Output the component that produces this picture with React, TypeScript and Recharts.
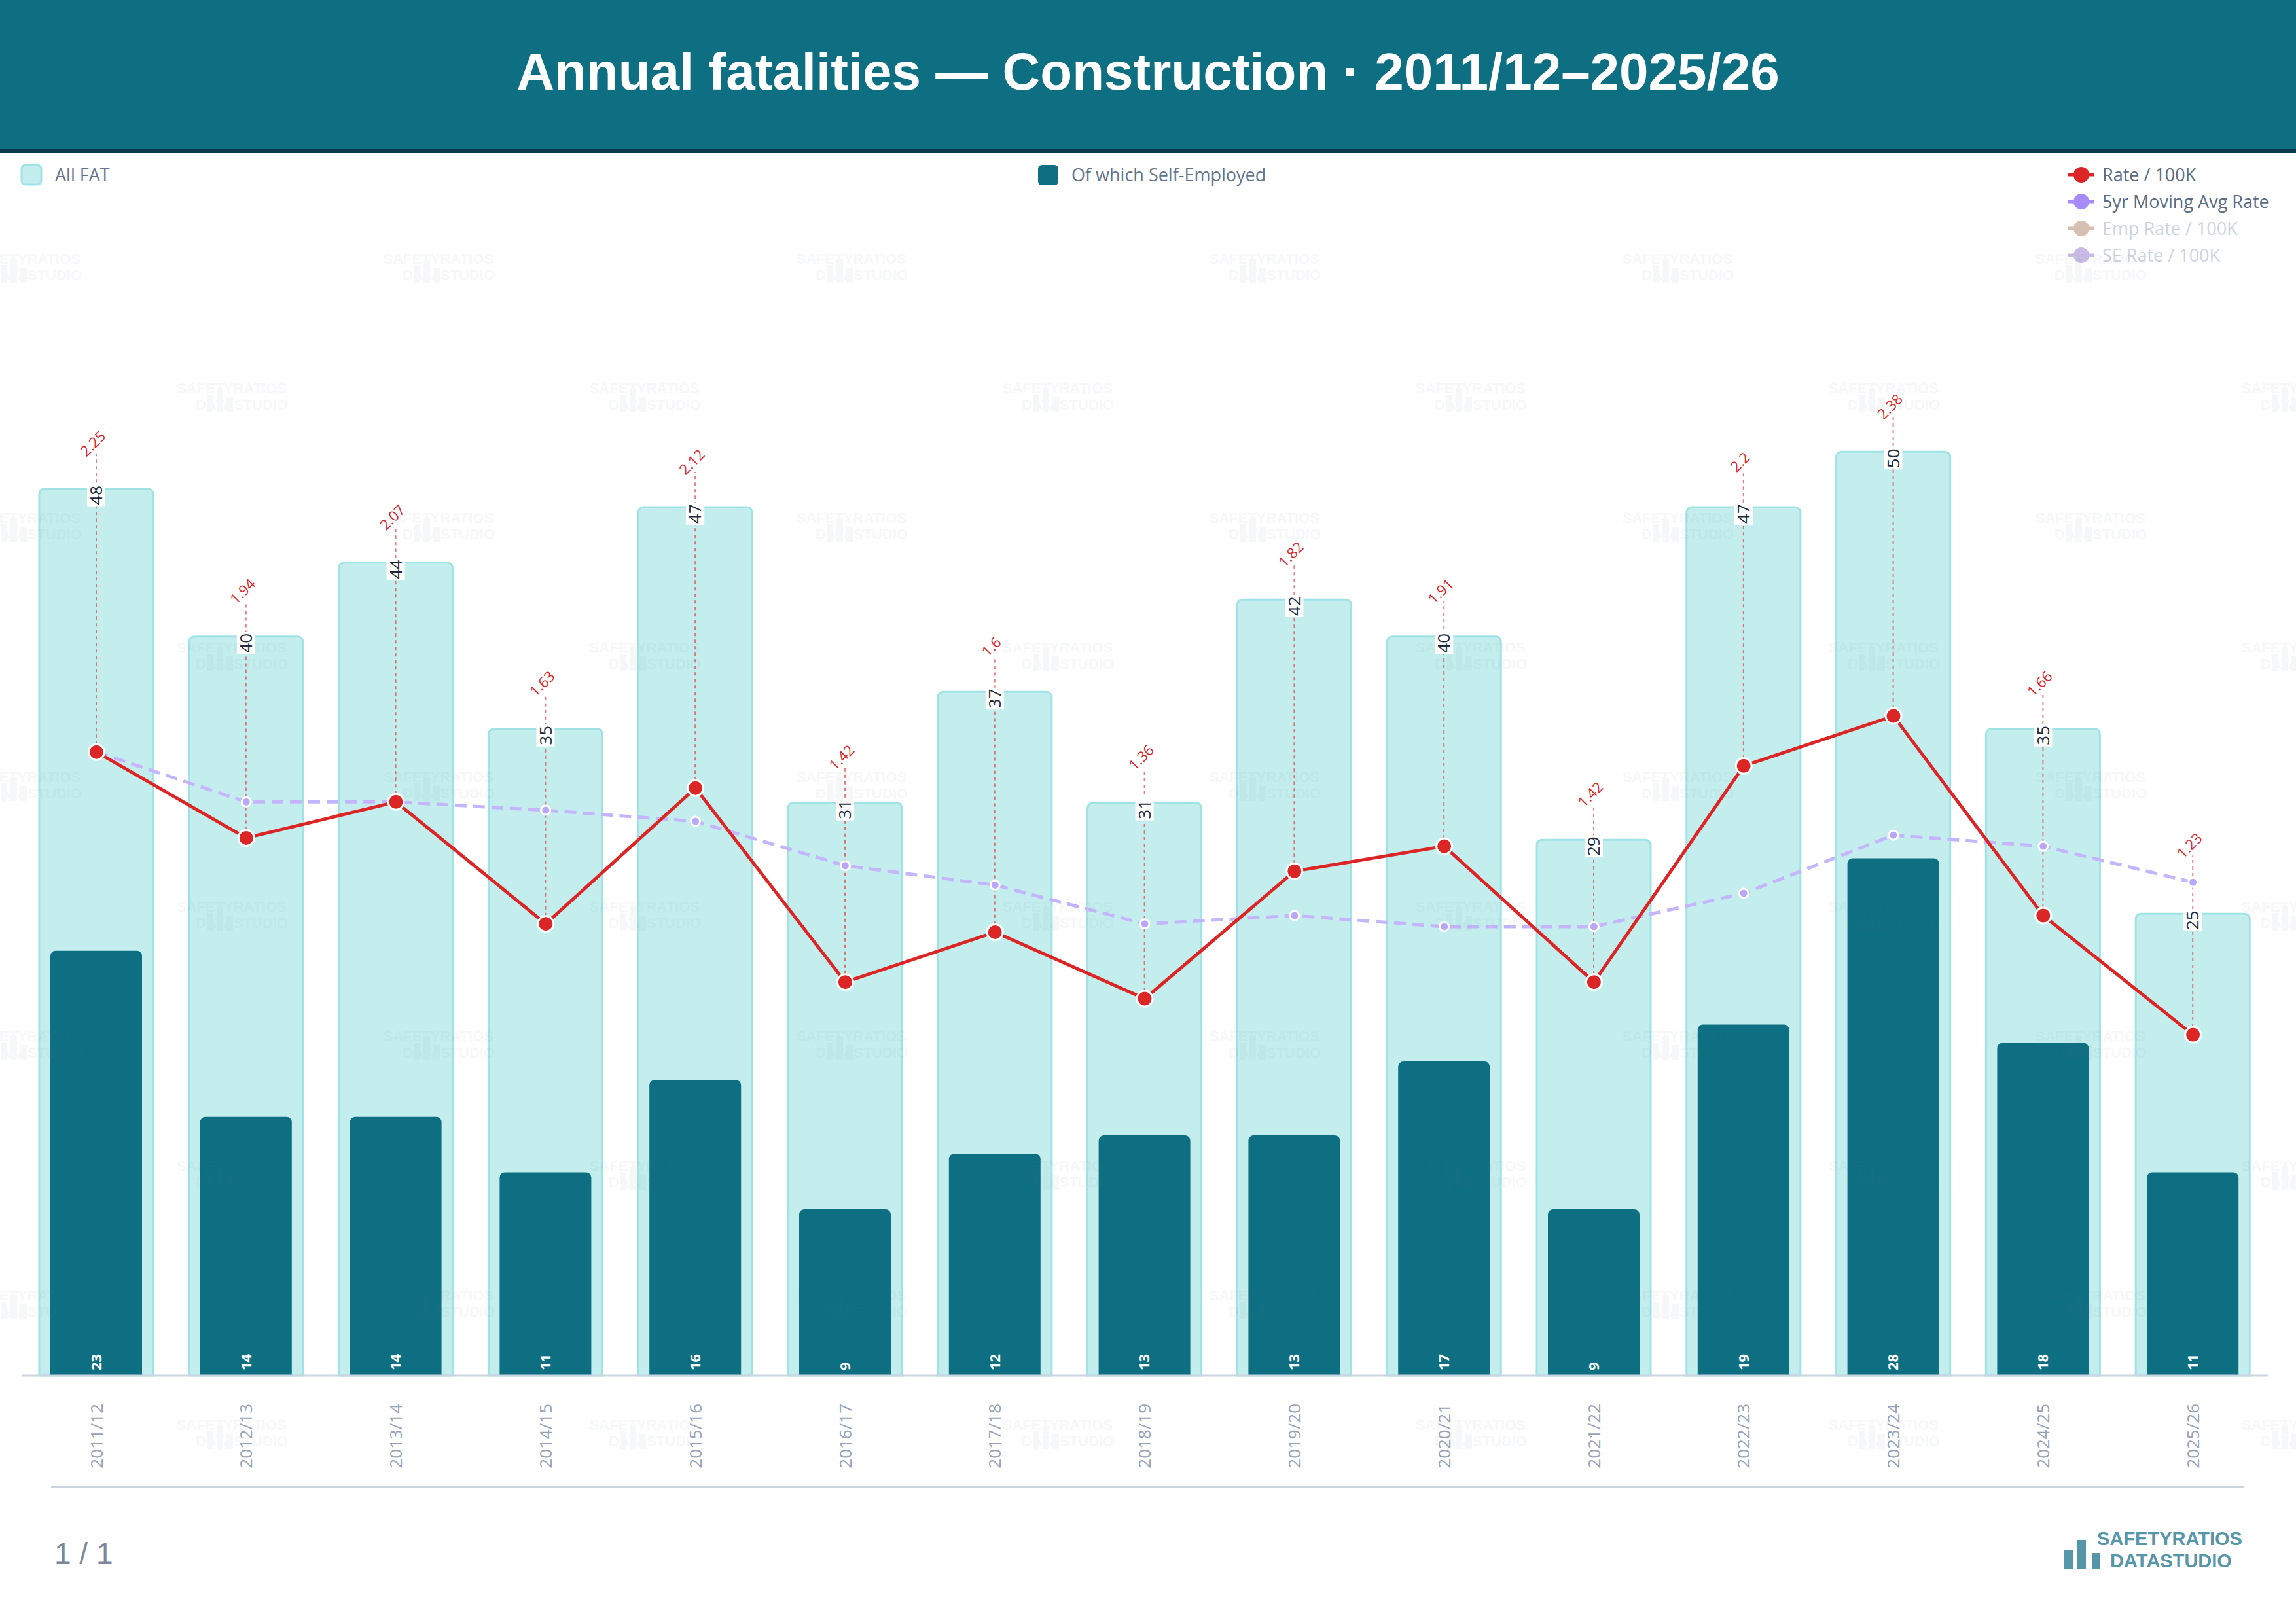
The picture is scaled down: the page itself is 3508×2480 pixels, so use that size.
import React from "react";
import { ComposedChart, Bar, Line, XAxis, YAxis, Rectangle } from "recharts";

// Fiscal years shown along the x axis
const years = [
  "2011/12", "2012/13", "2013/14", "2014/15", "2015/16", "2016/17", "2017/18", "2018/19",
  "2019/20", "2020/21", "2021/22", "2022/23", "2023/24", "2024/25", "2025/26",
];
// Fatalities, all workers
const allFat = [48, 40, 44, 35, 47, 31, 37, 31, 42, 40, 29, 47, 50, 35, 25];
// Of which self-employed
const selfEmployed = [23, 14, 14, 11, 16, 9, 12, 13, 13, 17, 9, 19, 28, 18, 11];
// Rate per 100K workers
const ratePer100k = [2.25, 1.94, 2.07, 1.63, 2.12, 1.42, 1.6, 1.36, 1.82, 1.91, 1.42, 2.2, 2.38, 1.66, 1.23];
// 5 year moving average of the rate
const movingAvgRate = [2.25, 2.07, 2.07, 2.04, 2.0, 1.84, 1.77, 1.63, 1.66, 1.62, 1.62, 1.74, 1.95, 1.91, 1.78];

const COUNT_MAX = 60;
const RATE_MAX = 4;

const rows = years.map((year, i) => ({
  year,
  all: allFat[i],
  se: selfEmployed[i],
  rate: ratePer100k[i],
  ma: movingAvgRate[i],
}));

const UI_FONT = "'Open Sans', 'Noto Sans', sans-serif";
const HEAD_FONT = "'Liberation Sans', Arial, sans-serif";

// light bar + the dotted leader from the rate point up to its value
function AllFatShape(props: any) {
  const { x, y, width, height, payload } = props;
  if (!payload || !height) return null;
  const cx = x + width / 2;
  const bottom = y + height;
  const plotH = (height / payload.all) * COUNT_MAX;
  const toRateY = (v: number) => bottom - (v / RATE_MAX) * plotH;
  const rateY = toRateY(payload.rate);
  const maY = toRateY(payload.ma);
  const tagY = Math.min(y - 69, maY - 56);
  const txt = String(payload.all);
  const len = txt.length * 0.572 * 26;
  return (
    <g>
      <Rectangle
        x={x}
        y={y}
        width={width}
        height={height}
        radius={[8, 8, 0, 0]}
        fill="#c4eeee"
        stroke="#9fe3e5"
        strokeWidth={3}
      />
      <line
        x1={cx}
        x2={cx}
        y1={rateY - 12}
        y2={tagY + 15}
        stroke="#dc2626"
        strokeOpacity={0.6}
        strokeWidth={2}
        strokeDasharray="5 5"
      />
      <rect x={cx - 14} y={y + 10 - len / 2 - 2} width={28} height={len + 4} fill="#ffffff" />
      <text
        transform={`translate(${cx},${y + 10}) rotate(-90)`}
        textAnchor="middle"
        dy="0.35em"
        fontSize={26}
        fontFamily={UI_FONT}
        fill="#1e293b"
      >
        {txt}
      </text>
      <text
        transform={`translate(${cx - 5},${tagY}) rotate(-45)`}
        textAnchor="middle"
        dy="0.35em"
        fontSize={22}
        fontFamily={UI_FONT}
        fill="#dc2626"
      >
        {payload.rate}
      </text>
    </g>
  );
}

function SelfEmployedShape(props: any) {
  const { x, y, width, height, payload } = props;
  if (!payload || !height) return null;
  const cx = x + width / 2;
  return (
    <g>
      <Rectangle x={x} y={y} width={width} height={height} radius={[8, 8, 0, 0]} fill="#0e6f82" />
      <text
        transform={`translate(${cx},${y + height - 8}) rotate(-90)`}
        textAnchor="start"
        dy="0.35em"
        fontSize={22}
        fontWeight={700}
        fontFamily={UI_FONT}
        fill="#ffffff"
      >
        {payload.se}
      </text>
    </g>
  );
}

function YearTick(props: any) {
  const { x, y, payload } = props;
  return (
    <text
      transform={`translate(${x},${y + 35}) rotate(-90)`}
      textAnchor="end"
      dy="0.35em"
      fontSize={26}
      fontFamily={UI_FONT}
      fill="#94a3b8"
    >
      {payload.value}
    </text>
  );
}

function Watermark({ x, y }: { x: number; y: number }) {
  return (
    <g>
      <rect x={x + 46} y={y + 20} width={10} height={27} />
      <rect x={x + 61} y={y + 10} width={10} height={37} />
      <rect x={x + 76} y={y + 24} width={10} height={23} />
      <text x={x + 168} y={y + 18} textAnchor="end" fontSize={22} fontWeight={700} fontFamily={HEAD_FONT}>
        SAFETYRATIOS
      </text>
      <text x={x + 170} y={y + 43} textAnchor="end" fontSize={22} fontWeight={700} fontFamily={HEAD_FONT}>
        DATASTUDIO
      </text>
    </g>
  );
}

function WatermarkGrid() {
  const marks: { x: number; y: number }[] = [];
  for (let r = 0; r < 10; r++) {
    const y = 385 + r * 198;
    const start = r % 2 === 0 ? 586 : 270;
    for (let c = -1; c < 6; c++) {
      const x = start + c * 631;
      if (x > -200 && x < 3550) marks.push({ x, y });
    }
  }
  return (
    <g fill="#64748b" opacity={0.05}>
      {marks.map((m, i) => (
        <Watermark key={i} x={m.x} y={m.y} />
      ))}
    </g>
  );
}

const lineLegend = [
  { label: "Rate / 100K", color: "#dc2626", text: "#5a6b82" },
  { label: "5yr Moving Avg Rate", color: "#a78bfa", text: "#5a6b82" },
  { label: "Emp Rate / 100K", color: "#d6c0b2", text: "#cdd4de" },
  { label: "SE Rate / 100K", color: "#c9bbe6", text: "#cdd4de" },
];

function Chrome() {
  return (
    <svg
      width={3508}
      height={2480}
      style={{ position: "absolute", left: 0, top: 0, pointerEvents: "none" }}
    >
      <rect x={0} y={0} width={3508} height={228} fill="#0e6f83" />
      <rect x={0} y={228} width={3508} height={6} fill="#083b48" />
      <text
        x={1754}
        y={137}
        textAnchor="middle"
        fontSize={80}
        fontWeight={700}
        fontFamily={HEAD_FONT}
        fill="#ffffff"
      >
        Annual fatalities — Construction · 2011/12–2025/26
      </text>

      {/* bar legend */}
      <rect x={33} y={252} width={30} height={30} rx={6} fill="#c4eeee" stroke="#9fe3e5" strokeWidth={3} />
      <text x={84} y={277} fontSize={27} fontFamily={UI_FONT} fill="#64748b">
        All FAT
      </text>
      <rect x={1586} y={252} width={31} height={31} rx={6} fill="#0e6f82" />
      <text x={1637} y={277} fontSize={27} fontFamily={UI_FONT} fill="#64748b">
        Of which Self-Employed
      </text>

      {/* line legend */}
      {lineLegend.map((item, i) => {
        const cy = 267 + i * 41;
        return (
          <g key={item.label}>
            <line x1={3159} x2={3200} y1={cy} y2={cy} stroke={item.color} strokeWidth={5} />
            <circle cx={3180} cy={cy} r={12} fill={item.color} />
            <text x={3212} y={cy + 10} fontSize={27} fontFamily={UI_FONT} fill={item.text}>
              {item.label}
            </text>
          </g>
        );
      })}

      <WatermarkGrid />

      {/* footer */}
      <line x1={78} x2={3428} y1={2272} y2={2272} stroke="#cbd5e1" strokeWidth={2} />
      <text x={83} y={2390} fontSize={46} fontFamily={HEAD_FONT} fill="#7b8798">
        1 / 1
      </text>
      <g fill="#5596a8">
        <rect x={3154} y={2368} width={13} height={30} />
        <rect x={3174} y={2353} width={13} height={45} />
        <rect x={3196} y={2373} width={13} height={25} />
        <text x={3315} y={2361} textAnchor="middle" fontSize={29} fontWeight={700} fontFamily={HEAD_FONT}>
          SAFETYRATIOS
        </text>
        <text x={3317} y={2395} textAnchor="middle" fontSize={29} fontWeight={700} fontFamily={HEAD_FONT}>
          DATASTUDIO
        </text>
      </g>
    </svg>
  );
}

export default function App() {
  return (
    <div
      style={{
        position: "absolute",
        left: 0,
        top: 0,
        width: 3508,
        height: 2480,
        background: "#ffffff",
        overflow: "hidden",
      }}
    >
      <div style={{ position: "absolute", left: 0, top: 0 }}>
        <ComposedChart
          width={3508}
          height={2480}
          data={rows}
          margin={{ top: 408, right: 43, left: 33, bottom: 238 }}
        >
          <XAxis
            xAxisId="main"
            dataKey="year"
            interval={0}
            height={140}
            tickLine={false}
            axisLine={{ stroke: "#cbd5e1", strokeWidth: 3 }}
            tick={<YearTick />}
          />
          <XAxis xAxisId="se" dataKey="year" hide />
          <YAxis yAxisId="count" domain={[0, COUNT_MAX]} hide />
          <YAxis yAxisId="rate" domain={[0, RATE_MAX]} hide />
          <Bar
            xAxisId="main"
            yAxisId="count"
            dataKey="all"
            barSize={174}
            fill="#c4eeee"
            shape={<AllFatShape />}
            isAnimationActive={false}
          />
          <Bar
            xAxisId="se"
            yAxisId="count"
            dataKey="se"
            barSize={140}
            fill="#0e6f82"
            shape={<SelfEmployedShape />}
            isAnimationActive={false}
          />
          <Line
            xAxisId="main"
            yAxisId="rate"
            type="linear"
            dataKey="ma"
            stroke="#c4b5fd"
            strokeWidth={5}
            strokeDasharray="18 10"
            dot={{ r: 7, fill: "#b9a7fb", stroke: "#ffffff", strokeWidth: 3, strokeDasharray: "0" }}
            activeDot={false}
            isAnimationActive={false}
          />
          <Line
            xAxisId="main"
            yAxisId="rate"
            type="linear"
            dataKey="rate"
            stroke="#dc2626"
            strokeWidth={5}
            dot={{ r: 12, fill: "#dc2626", stroke: "#ffffff", strokeWidth: 3 }}
            activeDot={false}
            isAnimationActive={false}
          />
        </ComposedChart>
      </div>
      <Chrome />
    </div>
  );
}
